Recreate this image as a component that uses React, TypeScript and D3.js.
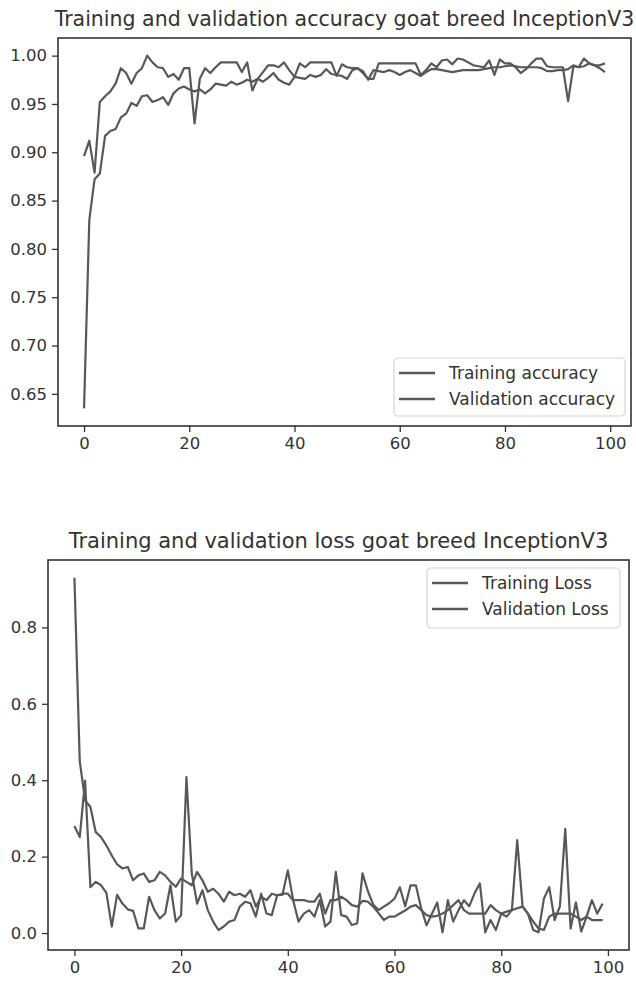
import React, { useRef, useEffect } from 'react';
import * as d3 from 'd3';

// accuracy per epoch (0..99)
const trainAcc = [
  0.635, 0.830, 0.872, 0.878, 0.917, 0.922, 0.924, 0.936, 0.940, 0.951,
  0.948, 0.958, 0.959, 0.952, 0.954, 0.957, 0.949, 0.961, 0.966, 0.968,
  0.965, 0.963, 0.965, 0.961, 0.965, 0.971, 0.970, 0.969, 0.973, 0.970,
  0.972, 0.975, 0.973, 0.976, 0.973, 0.977, 0.982, 0.975, 0.972, 0.970,
  0.978, 0.977, 0.976, 0.980, 0.978, 0.980, 0.986, 0.981, 0.980, 0.979,
  0.976, 0.985, 0.987, 0.984, 0.975, 0.985, 0.984, 0.983, 0.985, 0.983,
  0.980, 0.983, 0.985, 0.982, 0.979, 0.983, 0.986, 0.986, 0.985, 0.984,
  0.983, 0.984, 0.985, 0.985, 0.985, 0.985, 0.986, 0.987, 0.988, 0.988,
  0.989, 0.990, 0.989, 0.988, 0.988, 0.988, 0.988, 0.987, 0.984, 0.984,
  0.985, 0.985, 0.986, 0.990, 0.988, 0.989, 0.992, 0.990, 0.990, 0.992,
];
const valAcc = [
  0.896, 0.912, 0.879, 0.952, 0.958, 0.963, 0.971, 0.987, 0.982, 0.971,
  0.982, 0.987, 1.000, 0.993, 0.988, 0.987, 0.978, 0.981, 0.975, 0.987,
  0.987, 0.930, 0.976, 0.987, 0.982, 0.988, 0.993, 0.993, 0.993, 0.993,
  0.983, 0.993, 0.964, 0.976, 0.983, 0.990, 0.990, 0.988, 0.993, 0.985,
  0.978, 0.992, 0.988, 0.993, 0.993, 0.993, 0.993, 0.993, 0.979, 0.991,
  0.988, 0.987, 0.987, 0.982, 0.976, 0.976, 0.992, 0.992, 0.992, 0.992,
  0.992, 0.992, 0.992, 0.992, 0.980, 0.985, 0.992, 0.988, 0.995, 0.996,
  0.991, 0.997, 0.996, 0.993, 0.990, 0.989, 0.988, 0.995, 0.980, 0.996,
  0.992, 0.992, 0.988, 0.982, 0.986, 0.992, 0.997, 0.997, 0.989, 0.988,
  0.988, 0.988, 0.953, 0.989, 0.988, 0.997, 0.992, 0.990, 0.987, 0.983,
];

// loss per epoch
const trainLoss = [
  0.930, 0.450, 0.347, 0.330, 0.264, 0.251, 0.229, 0.203, 0.180, 0.169,
  0.173, 0.138, 0.151, 0.156, 0.134, 0.138, 0.160, 0.151, 0.134, 0.121,
  0.143, 0.134, 0.125, 0.160, 0.138, 0.108, 0.116, 0.103, 0.082, 0.108,
  0.099, 0.103, 0.095, 0.112, 0.069, 0.095, 0.086, 0.103, 0.099, 0.103,
  0.103, 0.086, 0.086, 0.086, 0.082, 0.082, 0.103, 0.051, 0.086, 0.086,
  0.095, 0.086, 0.073, 0.069, 0.084, 0.082, 0.069, 0.052, 0.034, 0.043,
  0.043, 0.051, 0.059, 0.069, 0.073, 0.060, 0.047, 0.043, 0.045, 0.051,
  0.060, 0.073, 0.086, 0.060, 0.051, 0.051, 0.051, 0.051, 0.073, 0.060,
  0.051, 0.056, 0.060, 0.065, 0.069, 0.051, 0.030, 0.012, 0.008, 0.043,
  0.051, 0.051, 0.051, 0.051, 0.043, 0.034, 0.043, 0.034, 0.034, 0.034,
];
const valLoss = [
  0.280, 0.251, 0.399, 0.120, 0.134, 0.125, 0.105, 0.017, 0.100, 0.077,
  0.062, 0.058, 0.012, 0.012, 0.095, 0.060, 0.038, 0.051, 0.125, 0.030,
  0.047, 0.408, 0.156, 0.077, 0.112, 0.060, 0.030, 0.008, 0.017, 0.030,
  0.034, 0.069, 0.082, 0.078, 0.043, 0.103, 0.051, 0.047, 0.099, 0.100,
  0.164, 0.086, 0.030, 0.051, 0.060, 0.043, 0.086, 0.017, 0.030, 0.160,
  0.047, 0.043, 0.021, 0.025, 0.156, 0.110, 0.075, 0.060, 0.069, 0.078,
  0.090, 0.120, 0.070, 0.125, 0.125, 0.065, 0.020, 0.050, 0.080, 0.002,
  0.086, 0.030, 0.060, 0.086, 0.070, 0.104, 0.130, 0.002, 0.034, 0.008,
  0.051, 0.043, 0.060, 0.243, 0.070, 0.051, 0.008, 0.002, 0.090, 0.120,
  0.034, 0.070, 0.273, 0.012, 0.080, 0.004, 0.043, 0.086, 0.051, 0.077,
];

const xTicks = [0, 20, 40, 60, 80, 100];
const accTicks = [0.65, 0.70, 0.75, 0.80, 0.85, 0.90, 0.95, 1.00];
const lossTicks = [0.0, 0.2, 0.4, 0.6, 0.8];

const accLabels = ['Training accuracy', 'Validation accuracy'];
const lossLabels = ['Training Loss', 'Validation Loss'];

const LINE = '#585858';
const INK = '#333';
const FONT = 'DejaVu Sans, sans-serif';

// matplotlib-style 5% padding around the data
const padded = (lo: number, hi: number) => {
  const m = (hi - lo) * 0.05;
  return [lo - m, hi + m];
};

function drawPanel(svg: any, cfg: any) {
  const { left, right, top, bottom, series, yTicks, yFmt, title, titleY, titleSize, labels, legend } = cfg;
  const g = svg.append('g');
  const n = series[0].length;

  const x = d3.scaleLinear().domain(padded(0, n - 1)).range([left, right]);
  const all = series.flat();
  const y = d3.scaleLinear().domain(padded(d3.min(all), d3.max(all))).range([bottom, top]);

  // title
  g.append('text')
    .attr('x', (left + right) / 2)
    .attr('y', titleY)
    .attr('text-anchor', 'middle')
    .attr('font-family', FONT)
    .attr('font-size', titleSize)
    .attr('fill', INK)
    .text(title);

  // lines
  const line = d3.line<number>().x((d, i) => x(i)).y(d => y(d));
  series.forEach((s: number[]) => {
    g.append('path')
      .attr('d', line(s))
      .attr('fill', 'none')
      .attr('stroke', LINE)
      .attr('stroke-width', 2.2)
      .attr('stroke-linejoin', 'round');
  });

  // axes
  const xa = g.append('g')
    .attr('transform', `translate(0,${bottom})`)
    .call(d3.axisBottom(x).tickValues(xTicks).tickSize(6).tickPadding(5).tickFormat(d3.format('d')));
  const ya = g.append('g')
    .attr('transform', `translate(${left},0)`)
    .call(d3.axisLeft(y).tickValues(yTicks).tickSize(6).tickPadding(5).tickFormat(d3.format(yFmt)));
  [xa, ya].forEach(a => {
    a.select('.domain').remove();
    a.selectAll('line').attr('stroke', INK).attr('stroke-width', 1.3);
    a.selectAll('text').attr('font-family', FONT).attr('font-size', 16.5).attr('fill', INK);
  });

  // frame
  g.append('rect')
    .attr('x', left).attr('y', top)
    .attr('width', right - left).attr('height', bottom - top)
    .attr('fill', 'none').attr('stroke', INK).attr('stroke-width', 1.6);

  // legend
  const lg = g.append('g').attr('transform', `translate(${legend.x},${legend.y})`);
  lg.append('rect')
    .attr('width', legend.w).attr('height', legend.h)
    .attr('rx', 4)
    .attr('fill', 'white').attr('stroke', '#d4d4d4').attr('stroke-width', 1.2);
  labels.forEach((lab: string, i: number) => {
    const cy = 15 + i * 26;
    lg.append('line')
      .attr('x1', 5).attr('x2', 41).attr('y1', cy).attr('y2', cy)
      .attr('stroke', LINE).attr('stroke-width', 2.5);
    lg.append('text')
      .attr('x', 55).attr('y', cy + 6)
      .attr('font-family', FONT).attr('font-size', 17).attr('fill', INK)
      .text(lab);
  });
}

const App = () => {
  const svgRef = useRef<SVGSVGElement>(null);

  useEffect(() => {
    const svg = d3.select(svgRef.current);
    svg.selectAll('*').remove();

    drawPanel(svg, {
      left: 58, right: 631, top: 38, bottom: 426,
      series: [trainAcc, valAcc],
      yTicks: accTicks, yFmt: '.2f',
      title: 'Training and validation accuracy goat breed InceptionV3', titleY: 26, titleSize: 20.5,
      labels: accLabels,
      legend: { x: 394, y: 358, w: 231, h: 58 },
    });

    drawPanel(svg, {
      left: 48, right: 629, top: 560, bottom: 950,
      series: [trainLoss, valLoss],
      yTicks: lossTicks, yFmt: '.1f',
      title: 'Training and validation loss goat breed InceptionV3', titleY: 548, titleSize: 21,
      labels: lossLabels,
      legend: { x: 427, y: 568, w: 193, h: 60 },
    });
  }, []);

  return (
    <svg
      ref={svgRef}
      width={636}
      height={984}
      style={{ position: 'absolute', left: 0, top: 0, background: 'white', display: 'block' }}
    />
  );
};

export default App;
